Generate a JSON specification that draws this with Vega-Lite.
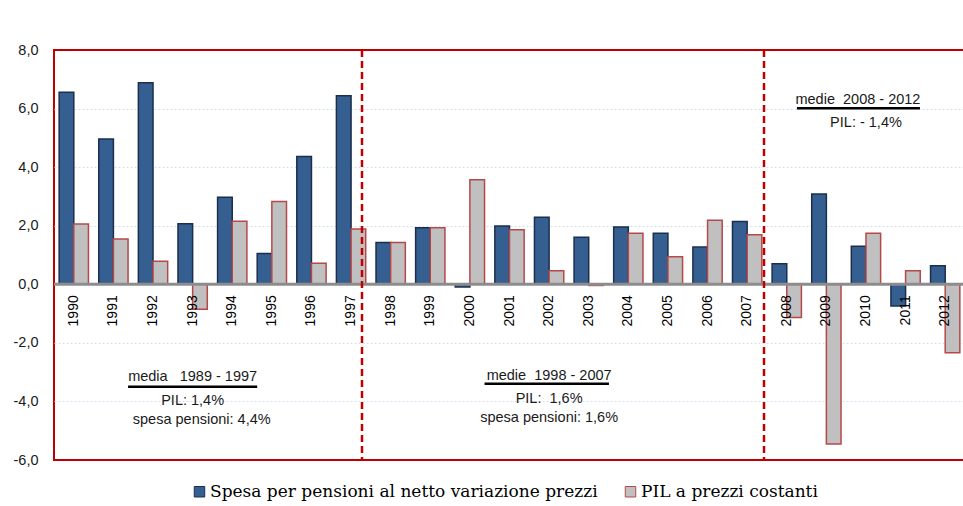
{
  "$schema": "https://vega.github.io/schema/vega-lite/v6.json",
  "width": 911,
  "height": 410,
  "autosize": {"type": "none"},
  "padding": {"left": 54, "top": 50, "right": 0, "bottom": 46},
  "background": "white",
  "config": {
    "view": {"stroke": "#C00000", "strokeWidth": 2},
    "font": "Liberation Sans"
  },
  "datasets": {
    "bars": [
      {"year": "1990", "serie": "Spesa per pensioni al netto variazione prezzi", "value": 6.56},
      {"year": "1990", "serie": "PIL a prezzi costanti", "value": 2.06},
      {"year": "1991", "serie": "Spesa per pensioni al netto variazione prezzi", "value": 4.96},
      {"year": "1991", "serie": "PIL a prezzi costanti", "value": 1.55},
      {"year": "1992", "serie": "Spesa per pensioni al netto variazione prezzi", "value": 6.88},
      {"year": "1992", "serie": "PIL a prezzi costanti", "value": 0.79},
      {"year": "1993", "serie": "Spesa per pensioni al netto variazione prezzi", "value": 2.07},
      {"year": "1993", "serie": "PIL a prezzi costanti", "value": -0.85},
      {"year": "1994", "serie": "Spesa per pensioni al netto variazione prezzi", "value": 2.97},
      {"year": "1994", "serie": "PIL a prezzi costanti", "value": 2.15},
      {"year": "1995", "serie": "Spesa per pensioni al netto variazione prezzi", "value": 1.05},
      {"year": "1995", "serie": "PIL a prezzi costanti", "value": 2.83},
      {"year": "1996", "serie": "Spesa per pensioni al netto variazione prezzi", "value": 4.36},
      {"year": "1996", "serie": "PIL a prezzi costanti", "value": 0.72},
      {"year": "1997", "serie": "Spesa per pensioni al netto variazione prezzi", "value": 6.44},
      {"year": "1997", "serie": "PIL a prezzi costanti", "value": 1.89},
      {"year": "1998", "serie": "Spesa per pensioni al netto variazione prezzi", "value": 1.43},
      {"year": "1998", "serie": "PIL a prezzi costanti", "value": 1.43},
      {"year": "1999", "serie": "Spesa per pensioni al netto variazione prezzi", "value": 1.93},
      {"year": "1999", "serie": "PIL a prezzi costanti", "value": 1.93},
      {"year": "2000", "serie": "Spesa per pensioni al netto variazione prezzi", "value": -0.09},
      {"year": "2000", "serie": "PIL a prezzi costanti", "value": 3.57},
      {"year": "2001", "serie": "Spesa per pensioni al netto variazione prezzi", "value": 1.99},
      {"year": "2001", "serie": "PIL a prezzi costanti", "value": 1.86},
      {"year": "2002", "serie": "Spesa per pensioni al netto variazione prezzi", "value": 2.29},
      {"year": "2002", "serie": "PIL a prezzi costanti", "value": 0.46},
      {"year": "2003", "serie": "Spesa per pensioni al netto variazione prezzi", "value": 1.61},
      {"year": "2003", "serie": "PIL a prezzi costanti", "value": -0.04},
      {"year": "2004", "serie": "Spesa per pensioni al netto variazione prezzi", "value": 1.96},
      {"year": "2004", "serie": "PIL a prezzi costanti", "value": 1.74},
      {"year": "2005", "serie": "Spesa per pensioni al netto variazione prezzi", "value": 1.74},
      {"year": "2005", "serie": "PIL a prezzi costanti", "value": 0.94},
      {"year": "2006", "serie": "Spesa per pensioni al netto variazione prezzi", "value": 1.27},
      {"year": "2006", "serie": "PIL a prezzi costanti", "value": 2.19},
      {"year": "2007", "serie": "Spesa per pensioni al netto variazione prezzi", "value": 2.14},
      {"year": "2007", "serie": "PIL a prezzi costanti", "value": 1.69},
      {"year": "2008", "serie": "Spesa per pensioni al netto variazione prezzi", "value": 0.70},
      {"year": "2008", "serie": "PIL a prezzi costanti", "value": -1.13},
      {"year": "2009", "serie": "Spesa per pensioni al netto variazione prezzi", "value": 3.08},
      {"year": "2009", "serie": "PIL a prezzi costanti", "value": -5.45},
      {"year": "2010", "serie": "Spesa per pensioni al netto variazione prezzi", "value": 1.30},
      {"year": "2010", "serie": "PIL a prezzi costanti", "value": 1.74},
      {"year": "2011", "serie": "Spesa per pensioni al netto variazione prezzi", "value": -0.74},
      {"year": "2011", "serie": "PIL a prezzi costanti", "value": 0.46},
      {"year": "2012", "serie": "Spesa per pensioni al netto variazione prezzi", "value": 0.63},
      {"year": "2012", "serie": "PIL a prezzi costanti", "value": -2.34}
    ],
    "years": [
      {"year": "1990"}, {"year": "1991"}, {"year": "1992"}, {"year": "1993"}, {"year": "1994"},
      {"year": "1995"}, {"year": "1996"}, {"year": "1997"}, {"year": "1998"}, {"year": "1999"},
      {"year": "2000"}, {"year": "2001"}, {"year": "2002"}, {"year": "2003"}, {"year": "2004"},
      {"year": "2005"}, {"year": "2006"}, {"year": "2007"}, {"year": "2008"}, {"year": "2009"},
      {"year": "2010"}, {"year": "2011"}, {"year": "2012"}
    ],
    "notes": [
      {"year": "1993", "value": -3.16, "label": "media\u00a0\u00a0 1989 - 1997"},
      {"year": "1993", "value": -3.97, "label": "PIL: 1,4%"},
      {"year": "2002", "value": -3.12, "label": "medie\u00a0 1998 - 2007"},
      {"year": "2002", "value": -3.90, "label": "PIL:\u00a0 1,6%"},
      {"year": "2002", "value": -4.58, "label": "spesa pensioni: 1,6%"},
      {"year": "2010", "value": 5.50, "label": "PIL: - 1,4%"}
    ]
  },
  "layer": [
    {
      "data": {"name": "bars"},
      "mark": {"type": "bar", "strokeWidth": 1.5},
      "encoding": {
        "x": {
          "field": "year", "type": "nominal",
          "scale": {
            "domain": ["1990","1991","1992","1993","1994","1995","1996","1997","1998","1999","2000","2001","2002","2003","2004","2005","2006","2007","2008","2009","2010","2011","2012"],
            "paddingInner": 0.26, "paddingOuter": 0.13
          },
          "axis": null
        },
        "xOffset": {
          "field": "serie", "type": "nominal",
          "scale": {"domain": ["Spesa per pensioni al netto variazione prezzi", "PIL a prezzi costanti"], "paddingInner": 0, "paddingOuter": 0}
        },
        "y": {
          "field": "value", "type": "quantitative",
          "scale": {"domain": [-6, 8], "nice": false, "zero": false},
          "axis": {
            "values": [-6, -4, -2, 0, 2, 4, 6, 8],
            "labelExpr": "replace(replace(format(datum.value, '.1f'), '.', ','), '\u2212', '-')",
            "domain": false, "ticks": false, "labelPadding": 16,
            "labelFontSize": 14.5, "labelColor": "#1a1a1a", "labelFont": "Liberation Sans",
            "grid": true,
            "gridColor": {"condition": {"test": "datum.value == 8 || datum.value == -6 || datum.value == 0", "value": "transparent"}, "value": "#d6def0"},
            "gridDash": [2, 2], "gridWidth": 1,
            "title": null
          }
        },
        "fill": {
          "field": "serie", "type": "nominal",
          "scale": {"domain": ["Spesa per pensioni al netto variazione prezzi", "PIL a prezzi costanti"], "range": ["#365F91", "#C0C0C0"]},
          "legend": {
            "title": null, "orient": "none", "direction": "horizontal",
            "legendX": 137, "legendY": 433,
            "symbolType": "square", "symbolSize": 110, "symbolStrokeWidth": 1,
            "labelFont": "DejaVu Serif", "labelFontSize": 17, "labelColor": "#000000",
            "labelOffset": 2, "columnPadding": 24, "padding": 0, "labelLimit": 0
          }
        },
        "stroke": {
          "field": "serie", "type": "nominal",
          "scale": {"domain": ["Spesa per pensioni al netto variazione prezzi", "PIL a prezzi costanti"], "range": ["#1B2F4D", "#B5494A"]},
          "legend": {
            "title": null, "orient": "none", "direction": "horizontal",
            "legendX": 137, "legendY": 433,
            "symbolType": "square", "symbolSize": 110, "symbolStrokeWidth": 1,
            "labelFont": "DejaVu Serif", "labelFontSize": 17, "labelColor": "#000000",
            "labelOffset": 2, "columnPadding": 24, "padding": 0, "labelLimit": 0
          }
        }
      }
    },
    {
      "data": {"values": [{}]},
      "mark": {"type": "rule", "color": "#8C8C8C", "strokeWidth": 3},
      "encoding": {"y": {"datum": 0}}
    },
    {
      "data": {"name": "years"},
      "mark": {"type": "text", "angle": 270, "align": "right", "baseline": "middle", "dx": -11, "fontSize": 14, "font": "Liberation Sans", "color": "#000000"},
      "encoding": {
        "x": {"field": "year", "type": "nominal"},
        "y": {"datum": 0},
        "text": {"field": "year"}
      }
    },
    {
      "data": {"values": [{"year": "1997"}]},
      "mark": {"type": "rule", "color": "#C00000", "strokeWidth": 2.5, "strokeDash": [7, 4]},
      "encoding": {"x": {"field": "year", "type": "nominal", "bandPosition": 0.873}}
    },
    {
      "data": {"values": [{"year": "2007"}]},
      "mark": {"type": "rule", "color": "#C00000", "strokeWidth": 2.5, "strokeDash": [7, 4]},
      "encoding": {"x": {"field": "year", "type": "nominal", "bandPosition": 1.075}}
    },
    {
      "data": {"name": "notes"},
      "mark": {"type": "text", "align": "center", "baseline": "middle", "fontSize": 14.5, "font": "Liberation Sans", "color": "#1a1a1a"},
      "encoding": {
        "x": {"field": "year", "type": "nominal"},
        "y": {"field": "value", "type": "quantitative"},
        "text": {"field": "label"}
      }
    },
    {
      "data": {"values": [{"year": "1993", "value": -4.65, "label": "spesa pensioni: 4,4%"}]},
      "mark": {"type": "text", "align": "center", "baseline": "middle", "fontSize": 14.5, "font": "Liberation Sans", "color": "#1a1a1a"},
      "encoding": {
        "x": {"field": "year", "type": "nominal", "bandPosition": 0.81},
        "y": {"field": "value", "type": "quantitative"},
        "text": {"field": "label"}
      }
    },
    {
      "data": {"values": [{"year": "2010", "value": 6.28, "label": "medie\u00a0 2008 - 2012"}]},
      "mark": {"type": "text", "align": "center", "baseline": "middle", "fontSize": 14.5, "font": "Liberation Sans", "color": "#1a1a1a"},
      "encoding": {
        "x": {"field": "year", "type": "nominal", "bandPosition": 0.225},
        "y": {"field": "value", "type": "quantitative"},
        "text": {"field": "label"}
      }
    },
    {
      "data": {"values": [{"from": "1991", "to": "1995", "value": -3.5}]},
      "mark": {"type": "rule", "color": "#000000", "strokeWidth": 2.5},
      "encoding": {
        "x": {"field": "from", "type": "nominal", "bandPosition": 1},
        "x2": {"field": "to", "bandPosition": 0},
        "y": {"field": "value", "type": "quantitative"}
      }
    },
    {
      "data": {"values": [{"from": "2000", "to": "2003", "value": -3.4}]},
      "mark": {"type": "rule", "color": "#000000", "strokeWidth": 2.5},
      "encoding": {
        "x": {"field": "from", "type": "nominal", "bandPosition": 1},
        "x2": {"field": "to", "bandPosition": 1.19},
        "y": {"field": "value", "type": "quantitative"}
      }
    },
    {
      "data": {"values": [{"from": "2008", "to": "2011", "value": 6.01}]},
      "mark": {"type": "rule", "color": "#000000", "strokeWidth": 2.5},
      "encoding": {
        "x": {"field": "from", "type": "nominal", "bandPosition": 0.846},
        "x2": {"field": "to", "bandPosition": 0.99},
        "y": {"field": "value", "type": "quantitative"}
      }
    }
  ]
}
